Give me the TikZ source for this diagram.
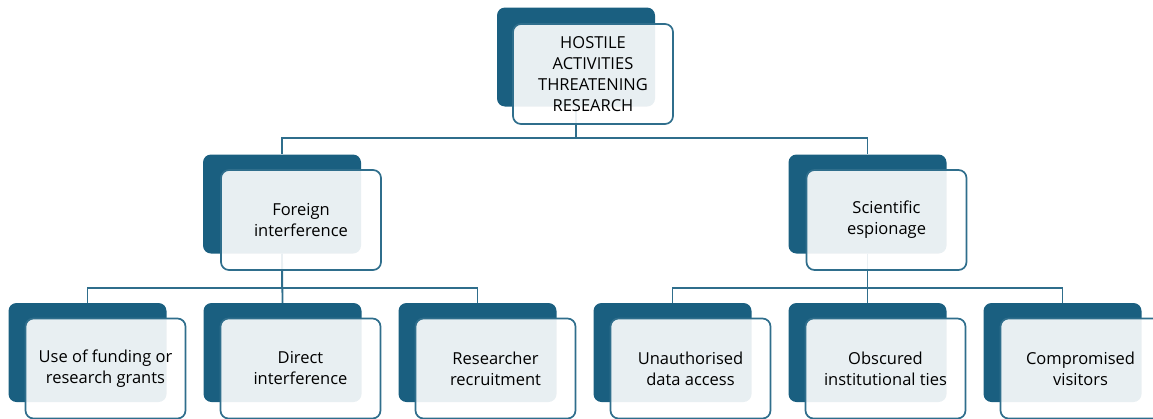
\documentclass[tikz,border=0pt]{standalone}
\usepackage{fontspec}
\setmainfont{Open Sans}
\usepackage{xcolor}
\usepackage{tikz}

\definecolor{tierdark}{HTML}{1A5F80}
\definecolor{tierline}{HTML}{2F6E8C}

\tikzset{
  backbox/.style={fill=tierdark, rounded corners=8pt, inner sep=0pt,
    minimum width=158pt, minimum height=99pt},
  frontbox/.style={draw=tierline, line width=1.7pt, fill=white, fill opacity=0.9,
    text opacity=1, text=black, rounded corners=8pt, inner sep=0pt,
    minimum width=160pt, minimum height=100pt, align=center,
    font=\fontsize{16.5}{21}\selectfont},
  link/.style={draw=tierline, line width=1.8pt}
}

\begin{document}
\begin{tikzpicture}[x=1pt,y=-1pt]
        \useasboundingbox (0,0) rectangle (1153,418);

        % Draw back boxes
        \node[backbox] (bTop) at (576,57) {};
        \node[backbox] (bForeign) at (282,204) {};
        \node[backbox] (bScience) at (867.5,204) {};
        \node[backbox] (bFunding) at (87.5,352.5) {};
        \node[backbox] (bDirect) at (282.5,352.5) {};
        \node[backbox] (bRecruit) at (477.5,352.5) {};
        \node[backbox] (bData) at (672.5,352.5) {};
        \node[backbox] (bTies) at (867.5,352.5) {};
        \node[backbox] (bVisitors) at (1062.5,352.5) {};

        % Draw connectors
        \draw[link] (bTop.south) -- ++(0,31) -| (bForeign.north);
        \draw[link] (bTop.south) -- ++(0,31) -| (bScience.north);
        \draw[link] (bForeign.south) -- ++(0,34) -| (bFunding.north);
        \draw[link] (bForeign.south) -- (bDirect.north);
        \draw[link] (bForeign.south) -- ++(0,34) -| (bRecruit.north);
        \draw[link] (bScience.south) -- ++(0,34) -| (bData.north);
        \draw[link] (bScience.south) -- (bTies.north);
        \draw[link] (bScience.south) -- ++(0,34) -| (bVisitors.north);

        % Draw front boxes
        \node[frontbox] (top) at ([shift={(17,17)}]bTop.center)
            {HOSTILE\\ACTIVITIES\\THREATENING\\RESEARCH};
        \node[frontbox] (foreign) at ([shift={(19,16)}]bForeign.center)
            {Foreign\\interference};
        \node[frontbox] (science) at ([shift={(19,16)}]bScience.center)
            {Scientific\\espionage};
        \node[frontbox] (funding) at ([shift={(18,16)}]bFunding.center)
            {Use of funding or\\research grants};
        \node[frontbox] (direct) at ([shift={(18,16)}]bDirect.center)
            {Direct\\interference};
        \node[frontbox] (recruit) at ([shift={(18,16)}]bRecruit.center)
            {Researcher\\recruitment};
        \node[frontbox] (data) at ([shift={(18,16)}]bData.center)
            {Unauthorised\\data access};
        \node[frontbox] (ties) at ([shift={(18,16)}]bTies.center)
            {Obscured\\institutional ties};
        \node[frontbox] (visitors) at ([shift={(18,16)}]bVisitors.center)
            {Compromised\\visitors};
    \end{tikzpicture}
\end{document}
